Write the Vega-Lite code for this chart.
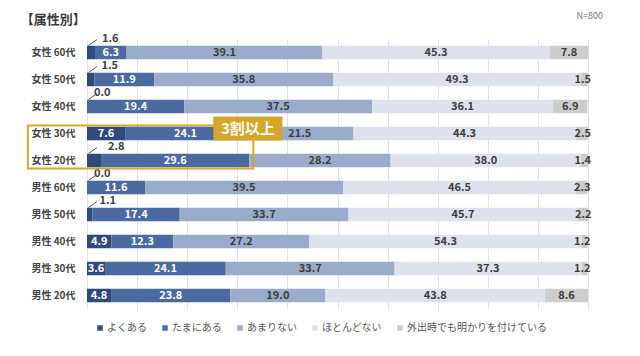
{
  "$schema": "https://vega.github.io/schema/vega-lite/v6.json",
  "width": 501,
  "height": 270,
  "autosize": {"type": "none"},
  "padding": {"left": 87, "top": 39, "right": 52, "bottom": 47},
  "background": "white",
  "config": {
    "font": "Noto Sans CJK JP",
    "view": {"stroke": null},
    "axis": {"labelFont": "Noto Sans CJK JP"},
    "legend": {"labelFont": "Noto Sans CJK JP"}
  },
  "data": {
    "values": [
      {"group": "女性 60代", "cat": "よくある", "o": 1, "value": 1.6},
      {"group": "女性 60代", "cat": "たまにある", "o": 2, "value": 6.3},
      {"group": "女性 60代", "cat": "あまりない", "o": 3, "value": 39.1},
      {"group": "女性 60代", "cat": "ほとんどない", "o": 4, "value": 45.3},
      {"group": "女性 60代", "cat": "外出時でも明かりを付けている", "o": 5, "value": 7.8},
      {"group": "女性 50代", "cat": "よくある", "o": 1, "value": 1.5},
      {"group": "女性 50代", "cat": "たまにある", "o": 2, "value": 11.9},
      {"group": "女性 50代", "cat": "あまりない", "o": 3, "value": 35.8},
      {"group": "女性 50代", "cat": "ほとんどない", "o": 4, "value": 49.3},
      {"group": "女性 50代", "cat": "外出時でも明かりを付けている", "o": 5, "value": 1.5},
      {"group": "女性 40代", "cat": "よくある", "o": 1, "value": 0.0},
      {"group": "女性 40代", "cat": "たまにある", "o": 2, "value": 19.4},
      {"group": "女性 40代", "cat": "あまりない", "o": 3, "value": 37.5},
      {"group": "女性 40代", "cat": "ほとんどない", "o": 4, "value": 36.1},
      {"group": "女性 40代", "cat": "外出時でも明かりを付けている", "o": 5, "value": 6.9},
      {"group": "女性 30代", "cat": "よくある", "o": 1, "value": 7.6},
      {"group": "女性 30代", "cat": "たまにある", "o": 2, "value": 24.1},
      {"group": "女性 30代", "cat": "あまりない", "o": 3, "value": 21.5},
      {"group": "女性 30代", "cat": "ほとんどない", "o": 4, "value": 44.3},
      {"group": "女性 30代", "cat": "外出時でも明かりを付けている", "o": 5, "value": 2.5},
      {"group": "女性 20代", "cat": "よくある", "o": 1, "value": 2.8},
      {"group": "女性 20代", "cat": "たまにある", "o": 2, "value": 29.6},
      {"group": "女性 20代", "cat": "あまりない", "o": 3, "value": 28.2},
      {"group": "女性 20代", "cat": "ほとんどない", "o": 4, "value": 38.0},
      {"group": "女性 20代", "cat": "外出時でも明かりを付けている", "o": 5, "value": 1.4},
      {"group": "男性 60代", "cat": "よくある", "o": 1, "value": 0.0},
      {"group": "男性 60代", "cat": "たまにある", "o": 2, "value": 11.6},
      {"group": "男性 60代", "cat": "あまりない", "o": 3, "value": 39.5},
      {"group": "男性 60代", "cat": "ほとんどない", "o": 4, "value": 46.5},
      {"group": "男性 60代", "cat": "外出時でも明かりを付けている", "o": 5, "value": 2.3},
      {"group": "男性 50代", "cat": "よくある", "o": 1, "value": 1.1},
      {"group": "男性 50代", "cat": "たまにある", "o": 2, "value": 17.4},
      {"group": "男性 50代", "cat": "あまりない", "o": 3, "value": 33.7},
      {"group": "男性 50代", "cat": "ほとんどない", "o": 4, "value": 45.7},
      {"group": "男性 50代", "cat": "外出時でも明かりを付けている", "o": 5, "value": 2.2},
      {"group": "男性 40代", "cat": "よくある", "o": 1, "value": 4.9},
      {"group": "男性 40代", "cat": "たまにある", "o": 2, "value": 12.3},
      {"group": "男性 40代", "cat": "あまりない", "o": 3, "value": 27.2},
      {"group": "男性 40代", "cat": "ほとんどない", "o": 4, "value": 54.3},
      {"group": "男性 40代", "cat": "外出時でも明かりを付けている", "o": 5, "value": 1.2},
      {"group": "男性 30代", "cat": "よくある", "o": 1, "value": 3.6},
      {"group": "男性 30代", "cat": "たまにある", "o": 2, "value": 24.1},
      {"group": "男性 30代", "cat": "あまりない", "o": 3, "value": 33.7},
      {"group": "男性 30代", "cat": "ほとんどない", "o": 4, "value": 37.3},
      {"group": "男性 30代", "cat": "外出時でも明かりを付けている", "o": 5, "value": 1.2},
      {"group": "男性 20代", "cat": "よくある", "o": 1, "value": 4.8},
      {"group": "男性 20代", "cat": "たまにある", "o": 2, "value": 23.8},
      {"group": "男性 20代", "cat": "あまりない", "o": 3, "value": 19.0},
      {"group": "男性 20代", "cat": "ほとんどない", "o": 4, "value": 43.8},
      {"group": "男性 20代", "cat": "外出時でも明かりを付けている", "o": 5, "value": 8.6}
    ]
  },
  "transform": [
    {"stack": "value", "groupby": ["group"], "sort": [{"field": "o", "order": "ascending"}], "as": ["x0", "x1"]},
    {"calculate": "(datum.x0 + datum.x1) / 2", "as": "mid"}
  ],
  "encoding": {
    "y": {
      "field": "group",
      "type": "nominal",
      "sort": null,
      "title": null,
      "scale": {"paddingInner": 0.5, "paddingOuter": 0.25},
      "axis": {"domain": false, "ticks": false, "labelFontSize": 10, "labelColor": "#444444", "labelPadding": 12, "labelFontWeight": "bold"}
    }
  },
  "layer": [
    {
      "mark": {"type": "bar"},
      "encoding": {
        "x": {
          "field": "x0",
          "type": "quantitative",
          "scale": {"domain": [0, 100], "nice": false},
          "title": null,
          "axis": {"labels": false, "ticks": false, "domain": false, "values": [0, 10, 20, 30, 40, 50, 60, 70, 80, 90, 100], "grid": true, "gridColor": "#e3e3e3"}
        },
        "x2": {"field": "x1"},
        "color": {
          "field": "cat",
          "type": "nominal",
          "sort": ["よくある", "たまにある", "あまりない", "ほとんどない", "外出時でも明かりを付けている"],
          "scale": {
            "domain": ["よくある", "たまにある", "あまりない", "ほとんどない", "外出時でも明かりを付けている"],
            "range": ["#2f4a7c", "#4a6aa0", "#9aabcb", "#dde2ec", "#cdcdcd"]
          },
          "legend": {
            "title": null,
            "orient": "none",
            "legendX": 8,
            "legendY": 284,
            "direction": "horizontal",
            "columns": 5,
            "symbolType": "square",
            "symbolSize": 30,
            "symbolStrokeWidth": 0,
            "labelFontSize": 10,
            "labelColor": "#555555",
            "labelOffset": 2,
            "columnPadding": 13
          }
        }
      }
    },
    {
      "transform": [{"filter": "!((datum.o == 1 || datum.o == 5) && datum.value < 3)"}],
      "mark": {"type": "text", "fontSize": 11, "fontWeight": "bold"},
      "encoding": {
        "x": {"field": "mid", "type": "quantitative"},
        "text": {"field": "value", "type": "quantitative", "format": ".1f"},
        "color": {"condition": {"test": "datum.o <= 2", "value": "white"}, "value": "#3d3d3d"}
      }
    },
    {
      "transform": [{"filter": "datum.o == 5 && datum.value < 3"}],
      "mark": {"type": "text", "fontSize": 11, "fontWeight": "bold", "align": "right", "dx": 3, "color": "#3d3d3d"},
      "encoding": {
        "x": {"field": "x1", "type": "quantitative"},
        "text": {"field": "value", "type": "quantitative", "format": ".1f"}
      }
    },
    {
      "transform": [{"filter": "datum.o == 1 && datum.value < 3"}],
      "mark": {"type": "text", "fontSize": 11, "fontWeight": "bold", "align": "left", "dx": 7, "dy": -14, "color": "#3d3d3d"},
      "encoding": {
        "x": {"field": "x1", "type": "quantitative"},
        "text": {"field": "value", "type": "quantitative", "format": ".1f"}
      }
    },
    {
      "transform": [{"filter": "datum.o == 1 && datum.value < 3"}],
      "mark": {"type": "rule", "color": "#555555", "strokeWidth": 1, "yOffset": -7, "y2Offset": -13},
      "encoding": {
        "x": {"datum": 0.3, "type": "quantitative"},
        "x2": {"datum": 2.0},
        "y2": {"field": "group"}
      }
    },
    {
      "data": {"values": [{"note": "3割以上", "from": "女性 30代", "to": "女性 20代"}]},
      "mark": {"type": "rect", "fill": null, "stroke": "#d4a62a", "strokeWidth": 2, "yOffset": -8, "y2Offset": 8},
      "encoding": {
        "x": {"datum": -11.8, "type": "quantitative"},
        "x2": {"datum": 33.2},
        "y": {"field": "from", "type": "nominal", "bandPosition": 0.5},
        "y2": {"field": "to", "bandPosition": 0.5}
      }
    },
    {
      "data": {"values": [{"note": "3割以上", "from": "女性 30代", "to": "女性 20代"}]},
      "mark": {"type": "rect", "fill": "#d4a62a", "yOffset": -17, "y2Offset": 7},
      "encoding": {
        "x": {"datum": 25.2, "type": "quantitative"},
        "x2": {"datum": 39.0},
        "y": {"field": "from", "type": "nominal", "bandPosition": 0.5},
        "y2": {"field": "from", "bandPosition": 0.5}
      }
    },
    {
      "data": {"values": [{"note": "3割以上", "from": "女性 30代", "to": "女性 20代"}]},
      "mark": {"type": "text", "color": "white", "fontSize": 15, "fontWeight": "bold", "dy": -5},
      "encoding": {
        "x": {"datum": 32.1, "type": "quantitative"},
        "y": {"field": "from", "type": "nominal"},
        "text": {"field": "note"}
      }
    },
    {
      "data": {"values": [{"n": "N=800", "row": "女性 60代"}]},
      "mark": {"type": "text", "color": "#777777", "fontSize": 9, "align": "right", "dx": 15, "dy": -37},
      "encoding": {
        "x": {"datum": 100, "type": "quantitative"},
        "y": {"field": "row", "type": "nominal"},
        "text": {"field": "n"}
      }
    },
    {
      "data": {"values": [{"t": "【属性別】", "row": "女性 60代"}]},
      "mark": {"type": "text", "color": "#3a3a3a", "fontSize": 13, "fontWeight": "bold", "align": "left", "dy": -33},
      "encoding": {
        "x": {"datum": -13.2, "type": "quantitative"},
        "y": {"field": "row", "type": "nominal"},
        "text": {"field": "t"}
      }
    }
  ]
}
